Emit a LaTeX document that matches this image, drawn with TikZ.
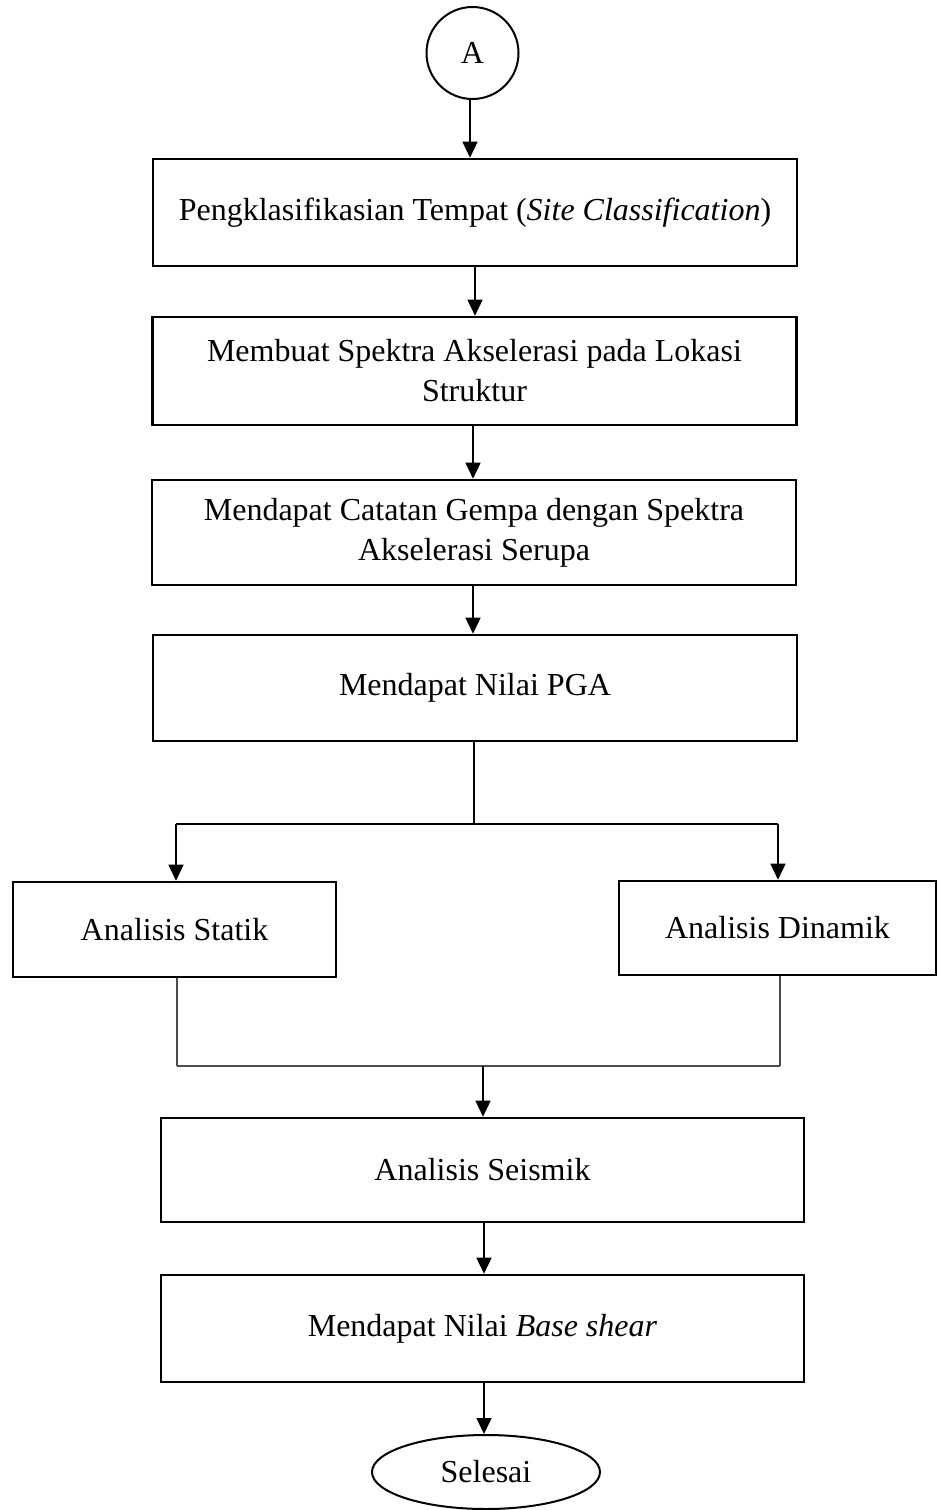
\documentclass[tikz,border=0pt]{standalone}
\usepackage{fontspec}
\setmainfont{Liberation Serif}
\usetikzlibrary{arrows.meta,shapes.geometric}
\begin{document}
\begin{tikzpicture}[x=1pt,y=-1pt,
  stepbox/.style={draw,line width=2.6pt,inner sep=0pt,align=center,
    font=\fontsize{32}{40}\selectfont},
  link/.style={line width=1.5pt},
  arr/.style={link,-{Triangle[width=15pt,length=16pt]}},
  grayline/.style={line width=1.6pt,draw=black!70}]
\useasboundingbox (0,0) rectangle (937,1510);
\node[draw,circle,line width=2pt,minimum size=92pt,inner sep=0pt,
  font=\fontsize{32}{40}\selectfont] (A) at (472.5,53) {A};
\node[stepbox,minimum width=644pt,minimum height=107pt] (b1) at (475,212.5)
  {Pengklasifikasian Tempat (\textit{Site Classification})};
\node[stepbox,minimum width=644pt,minimum height=108pt] (b2) at (474.5,371)
  {Membuat Spektra Akselerasi pada Lokasi\\Struktur};
\node[stepbox,minimum width=644pt,minimum height=105pt] (b3) at (474,532.5)
  {Mendapat Catatan Gempa dengan Spektra\\Akselerasi Serupa};
\node[stepbox,minimum width=644pt,minimum height=106pt] (b4) at (475,688)
  {Mendapat Nilai PGA};
\node[stepbox,minimum width=323pt,minimum height=95pt] (b5) at (174.5,929.5)
  {Analisis Statik};
\node[stepbox,minimum width=317pt,minimum height=94pt] (b6) at (777.5,928)
  {Analisis Dinamik};
\node[stepbox,minimum width=643pt,minimum height=104pt] (b7) at (482.5,1170)
  {Analisis Seismik};
\node[stepbox,minimum width=643pt,minimum height=107pt] (b8) at (482.5,1328.5)
  {Mendapat Nilai \textit{Base shear}};
\node[draw,ellipse,line width=2pt,minimum width=228pt,minimum height=74pt,
  inner sep=0pt,font=\fontsize{32}{40}\selectfont] (end) at (486,1472) {Selesai};
% connectors
\draw[arr] ([xshift=-2.5pt]A.south) -- ([xshift=-2.5pt]A.south |- b1.north);
\draw[arr] (b1.south) -- (b1.south |- b2.north);
\draw[arr] ([xshift=-1.5pt]b2.south) -- ([xshift=-1.5pt]b2.south |- b3.north);
\draw[arr] ([xshift=-1pt]b3.south) -- ([xshift=-1pt]b3.south |- b4.north);
\coordinate (split) at (474,824);
\coordinate (sl) at (176,824);
\coordinate (sr) at (778,824);
\draw[link] ([xshift=-1pt]b4.south) -- (split);
\draw[link] (sl) -- (sr);
\draw[arr] (sl) -- (sl |- b5.north);
\draw[arr] (sr) -- (sr |- b6.north);
\coordinate (jl) at (177,1066);
\coordinate (jr) at (780,1066);
\coordinate (jm) at (483,1066);
\draw[grayline] (jl |- b5.south) -- (jl);
\draw[grayline] (jr |- b6.south) -- (jr);
\draw[grayline] (jl) -- (jr);
\draw[arr] (jm) -- (jm |- b7.north);
\draw[arr] ([xshift=1.5pt]b7.south) -- ([xshift=1.5pt]b7.south |- b8.north);
\draw[arr] ([xshift=1.5pt]b8.south) -- ([xshift=1.5pt]b8.south |- end.north);
\end{tikzpicture}
\end{document}
